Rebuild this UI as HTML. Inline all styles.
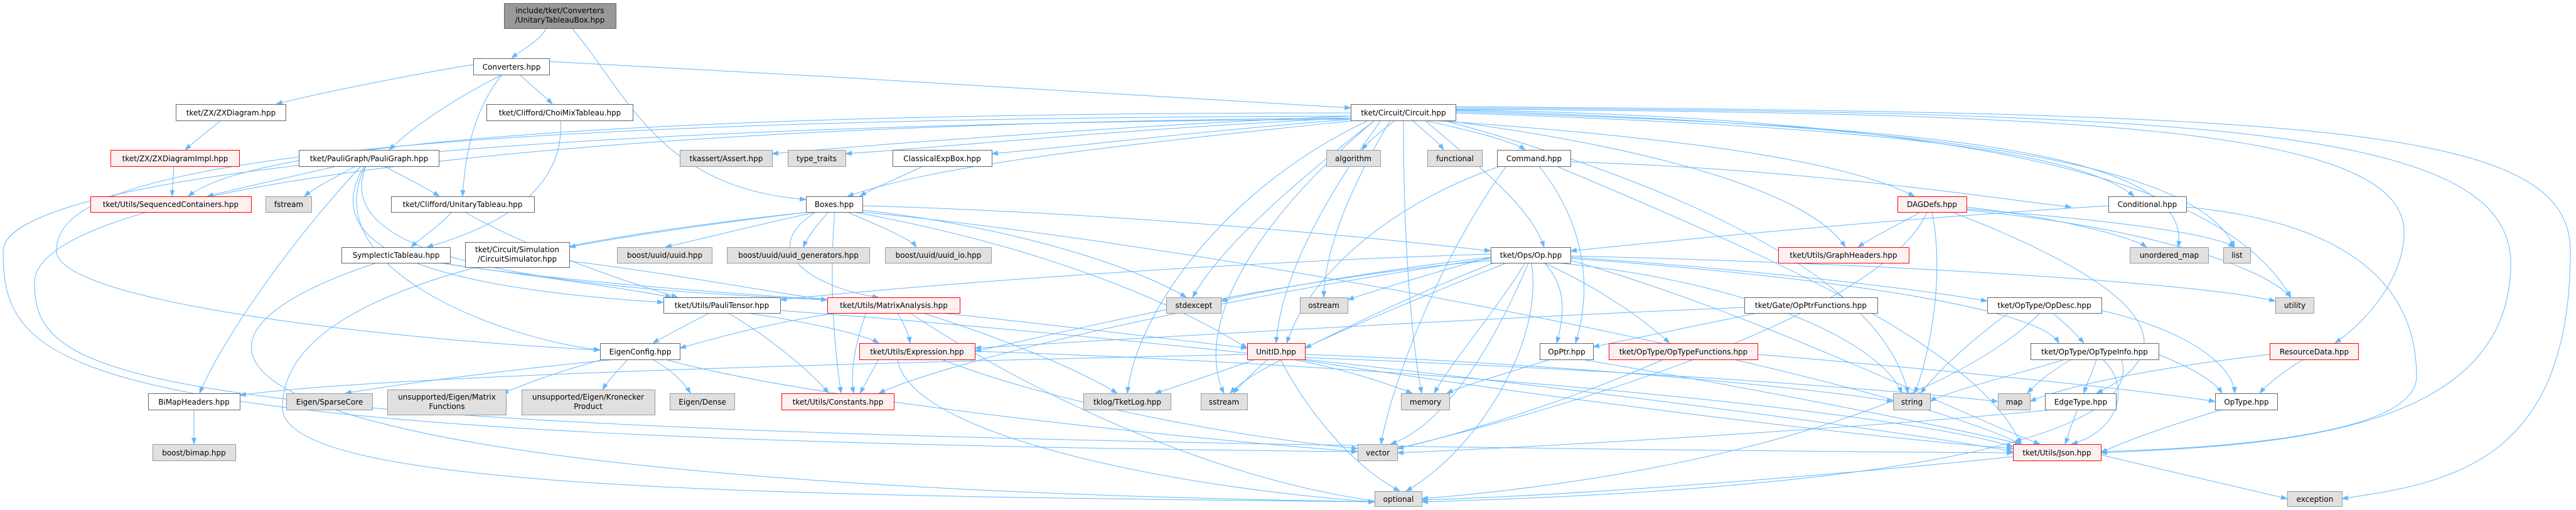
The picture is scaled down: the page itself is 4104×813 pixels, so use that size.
<!DOCTYPE html>
<html><head><meta charset="utf-8"><style>
html,body{margin:0;padding:0;background:#fff}
svg{display:block}
text{font-family:"DejaVu Sans","Liberation Sans",sans-serif;font-size:12px;fill:#000}
.w{fill:#fff;stroke:#666}
.g{fill:#e0e0e0;stroke:#999}
.r{fill:#fff0f0;stroke:#f00}
.h{fill:#999;stroke:#666}
path.e{fill:none;stroke:#63b8ff;stroke-width:1}
</style></head><body>
<svg width="4104" height="813" viewBox="0 0 4104 813" xmlns="http://www.w3.org/2000/svg">
<defs><marker id="a" markerUnits="userSpaceOnUse" markerWidth="11" markerHeight="8" refX="10" refY="4" orient="auto"><path d="M0,0 L11,4 L0,8 z" fill="#63b8ff"/></marker></defs>
<g marker-end="url(#a)">
<path class="e" d="M870,46 C860,65 830,80 815,93"/>
<path class="e" d="M912,46 C1000,150 1050,300 1284,318"/>
<path class="e" d="M875,98 C1300,120 1800,150 2152,172"/>
<path class="e" d="M754,103 C650,120 500,150 440,166"/>
<path class="e" d="M800,119 C720,160 660,200 620,239"/>
<path class="e" d="M800,119 C750,180 740,260 737,313"/>
<path class="e" d="M828,119 C850,140 870,155 880,166"/>
<path class="e" d="M352,192 C330,210 310,225 295,239"/>
<path class="e" d="M277,265 L274,313"/>
<path class="e" d="M536,265 C450,285 380,300 330,313"/>
<path class="e" d="M566,265 C530,285 500,300 485,313"/>
<path class="e" d="M612,265 C650,285 680,300 700,313"/>
<path class="e" d="M575,265 C450,400 350,550 318,627"/>
<path class="e" d="M580,265 C500,400 700,460 1057,482"/>
<path class="e" d="M583,265 C520,420 900,460 1318,478"/>
<path class="e" d="M582,265 C500,430 800,540 956,558"/>
<path class="e" d="M893,192 C900,300 800,360 680,394"/>
<path class="e" d="M720,338 C700,360 670,380 655,394"/>
<path class="e" d="M740,338 C850,400 1000,450 1080,474"/>
<path class="e" d="M700,419 C850,440 1000,460 1070,474"/>
<path class="e" d="M700,419 C900,450 1200,470 1318,478"/>
<path class="e" d="M600,419 C200,550 250,770 2190,800"/>
<path class="e" d="M2152,180 C1000,180 400,230 300,313"/>
<path class="e" d="M2270,192 C2350,210 2410,225 2430,239"/>
<path class="e" d="M2222,192 C2200,210 2180,225 2170,239"/>
<path class="e" d="M2250,192 C2270,210 2290,225 2300,239"/>
<path class="e" d="M2152,185 C1800,200 1400,230 1230,245"/>
<path class="e" d="M2152,188 C1800,205 1500,235 1347,245"/>
<path class="e" d="M2155,190 C1900,210 1700,235 1580,245"/>
<path class="e" d="M2160,192 C1800,230 1500,260 1350,313"/>
<path class="e" d="M2280,192 C2700,220 2950,260 3050,313"/>
<path class="e" d="M2319,180 C2900,200 3300,230 3400,313"/>
<path class="e" d="M2300,192 C2600,230 2880,300 2940,394"/>
<path class="e" d="M2319,178 C3000,200 3500,230 3470,394"/>
<path class="e" d="M2319,176 C3100,200 3500,260 3560,394"/>
<path class="e" d="M2319,175 C3200,190 3550,300 3650,474"/>
<path class="e" d="M2319,174 C3300,180 3830,200 3830,370 C3830,450 3760,520 3720,547"/>
<path class="e" d="M2319,172 C3500,180 4000,200 4000,420 C4000,700 3600,710 3347,722"/>
<path class="e" d="M2319,170 C3700,180 4095,200 4095,400 C4095,740 3900,770 3731,795"/>
<path class="e" d="M2270,192 C2350,260 2440,330 2460,394"/>
<path class="e" d="M2236,192 C2236,400 2250,550 2265,627"/>
<path class="e" d="M2152,190 C600,200 5,300 5,400 C5,600 100,700 2163,720"/>
<path class="e" d="M2152,188 C700,200 55,320 55,450 C55,620 200,700 3207,722"/>
<path class="e" d="M2180,192 C1950,300 1810,500 1796,627"/>
<path class="e" d="M2190,192 C2000,350 1900,520 1950,627"/>
<path class="e" d="M2200,192 C2100,330 2040,450 2033,547"/>
<path class="e" d="M2190,192 C2050,300 1940,400 1900,474"/>
<path class="e" d="M2215,192 C2150,300 2110,400 2109,474"/>
<path class="e" d="M2152,185 C300,190 90,300 90,400 C90,480 600,540 956,558"/>
<path class="e" d="M2300,192 C2700,300 3000,450 3040,627"/>
<path class="e" d="M2452,265 C2520,350 2540,450 2510,547"/>
<path class="e" d="M2390,265 C2200,330 2080,450 2050,547"/>
<path class="e" d="M2480,265 C2800,400 3150,550 3220,708"/>
<path class="e" d="M2400,265 C2300,400 2220,600 2200,708"/>
<path class="e" d="M2502,258 C2900,270 3200,320 3300,330"/>
<path class="e" d="M1290,338 C1100,360 950,385 907,394"/>
<path class="e" d="M1300,338 C1200,360 1100,385 1060,394"/>
<path class="e" d="M1320,338 C1300,360 1285,380 1280,394"/>
<path class="e" d="M1350,338 C1400,360 1450,380 1460,394"/>
<path class="e" d="M1374,328 C1800,340 2200,380 2375,400"/>
<path class="e" d="M1374,335 C1600,360 1800,420 1890,474"/>
<path class="e" d="M1360,338 C1700,400 1900,500 1987,555"/>
<path class="e" d="M1300,338 C1200,400 1300,460 1400,474"/>
<path class="e" d="M1374,338 C2000,400 3000,600 3220,708"/>
<path class="e" d="M1290,338 C700,400 450,500 450,650 C450,780 1200,790 2190,800"/>
<path class="e" d="M1330,338 C1320,450 1330,560 1340,627"/>
<path class="e" d="M907,416 C1100,440 1250,470 1318,478"/>
<path class="e" d="M1470,265 C1430,285 1390,300 1370,313"/>
<path class="e" d="M2375,410 C2300,430 2200,460 2147,478"/>
<path class="e" d="M2460,419 C2500,460 2490,510 2480,547"/>
<path class="e" d="M2460,419 C2550,460 2620,510 2660,547"/>
<path class="e" d="M2502,410 C2800,430 3050,460 3166,480"/>
<path class="e" d="M2502,412 C2900,440 3250,490 3280,547"/>
<path class="e" d="M2430,419 C2380,500 2310,580 2285,627"/>
<path class="e" d="M2435,419 C2380,550 2300,680 2215,708"/>
<path class="e" d="M2440,419 C2460,550 2350,720 2240,783"/>
<path class="e" d="M2502,415 C2800,500 3100,650 3250,708"/>
<path class="e" d="M2380,419 C2250,470 2150,520 2079,555"/>
<path class="e" d="M2375,415 C2000,450 1700,530 1553,560"/>
<path class="e" d="M2400,419 C2200,500 2000,580 1960,627"/>
<path class="e" d="M2480,419 C2800,450 3000,550 3030,627"/>
<path class="e" d="M2375,405 C1900,420 1400,460 1243,478"/>
<path class="e" d="M2375,412 C1900,480 1500,580 1400,627"/>
<path class="e" d="M2502,408 C3000,420 3500,450 3625,480"/>
<path class="e" d="M2375,410 C2200,430 2000,465 1945,480"/>
<path class="e" d="M1130,499 C1100,515 1060,535 1040,547"/>
<path class="e" d="M1160,499 C1230,540 1300,600 1320,627"/>
<path class="e" d="M1190,499 C1300,515 1380,535 1400,547"/>
<path class="e" d="M1243,495 C2000,550 3000,680 3207,720"/>
<path class="e" d="M1330,499 C1200,520 1120,545 1083,555"/>
<path class="e" d="M1430,499 C1440,515 1448,535 1450,547"/>
<path class="e" d="M1500,499 C1700,520 1900,545 1987,555"/>
<path class="e" d="M1470,499 C1600,540 1720,590 1780,627"/>
<path class="e" d="M1380,499 C1360,550 1355,600 1360,627"/>
<path class="e" d="M1450,499 C1600,600 1900,760 2200,800"/>
<path class="e" d="M980,573 C800,590 620,615 550,627"/>
<path class="e" d="M960,573 C880,595 830,615 800,627"/>
<path class="e" d="M1000,573 C985,590 970,605 960,621"/>
<path class="e" d="M1040,573 C1070,590 1090,610 1100,627"/>
<path class="e" d="M1060,573 C1300,640 1900,700 2163,720"/>
<path class="e" d="M1400,573 C1390,590 1380,610 1370,627"/>
<path class="e" d="M1553,560 C2200,580 3000,650 3207,712"/>
<path class="e" d="M1500,573 C1700,650 2000,700 2163,715"/>
<path class="e" d="M1430,573 C1450,700 1900,780 2190,800"/>
<path class="e" d="M2000,573 C1950,590 1880,615 1840,627"/>
<path class="e" d="M2020,573 C2000,590 1975,615 1965,627"/>
<path class="e" d="M2060,573 C2150,590 2220,615 2250,627"/>
<path class="e" d="M2079,565 C2500,580 2900,620 3016,640"/>
<path class="e" d="M1987,565 C1300,580 600,600 382,630"/>
<path class="e" d="M2070,573 C2500,640 3000,700 3207,715"/>
<path class="e" d="M2040,573 C2080,650 2150,740 2230,783"/>
<path class="e" d="M2079,570 C2600,590 3000,620 3183,640"/>
<path class="e" d="M2470,573 C2400,595 2330,615 2305,627"/>
<path class="e" d="M2520,573 C2800,620 3100,680 3220,708"/>
<path class="e" d="M2650,573 C2500,640 2300,700 2226,715"/>
<path class="e" d="M2800,565 C3100,590 3400,620 3529,640"/>
<path class="e" d="M2800,499 C2700,520 2600,540 2538,553"/>
<path class="e" d="M2779,490 C2300,510 1800,540 1553,555"/>
<path class="e" d="M3060,338 C3020,360 2980,380 2960,394"/>
<path class="e" d="M3133,330 C3300,350 3400,380 3420,394"/>
<path class="e" d="M3133,333 C3350,350 3520,370 3560,394"/>
<path class="e" d="M3078,338 C3100,450 3070,580 3050,627"/>
<path class="e" d="M3070,338 C3000,500 2500,650 2226,715"/>
<path class="e" d="M3110,338 C3400,450 3500,550 3340,627"/>
<path class="e" d="M3133,335 C3400,360 3600,420 3650,474"/>
<path class="e" d="M3359,328 C3000,350 2700,380 2502,400"/>
<path class="e" d="M3483,330 C3800,360 3850,500 3850,600 C3850,700 3500,715 3347,720"/>
<path class="e" d="M3270,499 C3290,515 3310,535 3320,547"/>
<path class="e" d="M3200,499 C3130,550 3080,600 3060,627"/>
<path class="e" d="M3250,499 C3100,650 2700,760 2265,795"/>
<path class="e" d="M3348,495 C3500,530 3560,590 3560,627"/>
<path class="e" d="M3290,573 C3200,600 3100,625 3075,640"/>
<path class="e" d="M3300,573 C3270,590 3245,610 3230,627"/>
<path class="e" d="M3340,573 C3335,590 3325,610 3320,627"/>
<path class="e" d="M3350,573 C3400,620 3370,690 3300,708"/>
<path class="e" d="M3439,565 C3500,590 3530,610 3540,627"/>
<path class="e" d="M3380,573 C3420,700 3000,780 2265,800"/>
<path class="e" d="M3310,653 C3300,675 3295,695 3290,708"/>
<path class="e" d="M3270,653 C3000,680 2500,710 2226,722"/>
<path class="e" d="M3540,653 C3450,680 3380,705 3347,722"/>
<path class="e" d="M3670,573 C3640,590 3610,615 3600,627"/>
<path class="e" d="M3616,565 C3400,590 3280,620 3234,640"/>
<path class="e" d="M3347,725 C3450,750 3580,780 3644,795"/>
<path class="e" d="M3207,728 C2900,760 2500,790 2265,797"/>
<path class="e" d="M309,653 L309,708"/>
</g>
<rect class="h" x="803.5" y="5.5" width="178" height="40"/>
<text x="892" y="21" text-anchor="middle">include/tket/Converters</text>
<text x="892" y="36" text-anchor="middle">/UnitaryTableauBox.hpp</text>
<rect class="w" x="754.5" y="93.5" width="121" height="26"/><text x="815" y="111" text-anchor="middle">Converters.hpp</text>
<rect class="w" x="280.5" y="166.5" width="175" height="26"/><text x="368" y="184" text-anchor="middle">tket/ZX/ZXDiagram.hpp</text>
<rect class="w" x="775.5" y="166.5" width="233" height="26"/><text x="892" y="184" text-anchor="middle">tket/Clifford/ChoiMixTableau.hpp</text>
<rect class="w" x="2152.5" y="166.5" width="167" height="26"/><text x="2236" y="184" text-anchor="middle">tket/Circuit/Circuit.hpp</text>
<rect class="r" x="176.5" y="239.5" width="205" height="26"/><text x="279" y="257" text-anchor="middle">tket/ZX/ZXDiagramImpl.hpp</text>
<rect class="w" x="476.5" y="239.5" width="223" height="26"/><text x="588" y="257" text-anchor="middle">tket/PauliGraph/PauliGraph.hpp</text>
<rect class="g" x="1083.5" y="239.5" width="147" height="26"/><text x="1157" y="257" text-anchor="middle">tkassert/Assert.hpp</text>
<rect class="g" x="1255.5" y="239.5" width="92" height="26"/><text x="1301" y="257" text-anchor="middle">type_traits</text>
<rect class="w" x="1422.5" y="239.5" width="158" height="26"/><text x="1501" y="257" text-anchor="middle">ClassicalExpBox.hpp</text>
<rect class="g" x="2113.5" y="239.5" width="86" height="26"/><text x="2156" y="257" text-anchor="middle">algorithm</text>
<rect class="g" x="2274.5" y="239.5" width="87" height="26"/><text x="2318" y="257" text-anchor="middle">functional</text>
<rect class="w" x="2385.5" y="239.5" width="117" height="26"/><text x="2444" y="257" text-anchor="middle">Command.hpp</text>
<rect class="r" x="144.5" y="313.5" width="256" height="25"/><text x="272" y="330" text-anchor="middle">tket/Utils/SequencedContainers.hpp</text>
<rect class="g" x="423.5" y="313.5" width="73" height="25"/><text x="460" y="330" text-anchor="middle">fstream</text>
<rect class="w" x="623.5" y="313.5" width="228" height="25"/><text x="737" y="330" text-anchor="middle">tket/Clifford/UnitaryTableau.hpp</text>
<rect class="w" x="1284.5" y="313.5" width="90" height="25"/><text x="1329" y="330" text-anchor="middle">Boxes.hpp</text>
<rect class="r" x="3023.5" y="313.5" width="110" height="25"/><text x="3078" y="330" text-anchor="middle">DAGDefs.hpp</text>
<rect class="w" x="3359.5" y="313.5" width="124" height="25"/><text x="3421" y="330" text-anchor="middle">Conditional.hpp</text>
<rect class="w" x="544.5" y="394.5" width="173" height="25"/><text x="631" y="411" text-anchor="middle">SymplecticTableau.hpp</text>
<rect class="w" x="741.5" y="386.5" width="166" height="40"/>
<text x="824" y="402" text-anchor="middle">tket/Circuit/Simulation</text>
<text x="824" y="417" text-anchor="middle">/CircuitSimulator.hpp</text>
<rect class="g" x="983.5" y="394.5" width="151" height="25"/><text x="1059" y="411" text-anchor="middle">boost/uuid/uuid.hpp</text>
<rect class="g" x="1158.5" y="394.5" width="227" height="25"/><text x="1272" y="411" text-anchor="middle">boost/uuid/uuid_generators.hpp</text>
<rect class="g" x="1410.5" y="394.5" width="169" height="25"/><text x="1495" y="411" text-anchor="middle">boost/uuid/uuid_io.hpp</text>
<rect class="w" x="2375.5" y="394.5" width="127" height="25"/><text x="2439" y="411" text-anchor="middle">tket/Ops/Op.hpp</text>
<rect class="r" x="2833.5" y="394.5" width="208" height="25"/><text x="2937" y="411" text-anchor="middle">tket/Utils/GraphHeaders.hpp</text>
<rect class="g" x="3393.5" y="394.5" width="125" height="25"/><text x="3456" y="411" text-anchor="middle">unordered_map</text>
<rect class="g" x="3542.5" y="394.5" width="43" height="25"/><text x="3564" y="411" text-anchor="middle">list</text>
<rect class="w" x="1057.5" y="474.5" width="186" height="25"/><text x="1150" y="491" text-anchor="middle">tket/Utils/PauliTensor.hpp</text>
<rect class="r" x="1318.5" y="474.5" width="211" height="25"/><text x="1424" y="491" text-anchor="middle">tket/Utils/MatrixAnalysis.hpp</text>
<rect class="g" x="1858.5" y="474.5" width="87" height="25"/><text x="1902" y="491" text-anchor="middle">stdexcept</text>
<rect class="g" x="2071.5" y="474.5" width="76" height="25"/><text x="2109" y="491" text-anchor="middle">ostream</text>
<rect class="w" x="2779.5" y="474.5" width="212" height="25"/><text x="2885" y="491" text-anchor="middle">tket/Gate/OpPtrFunctions.hpp</text>
<rect class="w" x="3166.5" y="474.5" width="182" height="25"/><text x="3257" y="491" text-anchor="middle">tket/OpType/OpDesc.hpp</text>
<rect class="g" x="3625.5" y="474.5" width="61" height="25"/><text x="3656" y="491" text-anchor="middle">utility</text>
<rect class="w" x="956.5" y="547.5" width="127" height="26"/><text x="1020" y="565" text-anchor="middle">EigenConfig.hpp</text>
<rect class="r" x="1369.5" y="547.5" width="184" height="26"/><text x="1461" y="565" text-anchor="middle">tket/Utils/Expression.hpp</text>
<rect class="r" x="1987.5" y="547.5" width="92" height="26"/><text x="2033" y="565" text-anchor="middle">UnitID.hpp</text>
<rect class="w" x="2453.5" y="547.5" width="85" height="26"/><text x="2496" y="565" text-anchor="middle">OpPtr.hpp</text>
<rect class="r" x="2563.5" y="547.5" width="237" height="26"/><text x="2682" y="565" text-anchor="middle">tket/OpType/OpTypeFunctions.hpp</text>
<rect class="w" x="3235.5" y="547.5" width="204" height="26"/><text x="3337" y="565" text-anchor="middle">tket/OpType/OpTypeInfo.hpp</text>
<rect class="r" x="3616.5" y="547.5" width="141" height="26"/><text x="3687" y="565" text-anchor="middle">ResourceData.hpp</text>
<rect class="w" x="236.5" y="627.5" width="146" height="26"/><text x="309" y="645" text-anchor="middle">BiMapHeaders.hpp</text>
<rect class="g" x="456.5" y="627.5" width="137" height="26"/><text x="525" y="645" text-anchor="middle">Eigen/SparseCore</text>
<rect class="g" x="617.5" y="621.5" width="189" height="40"/>
<text x="712" y="637" text-anchor="middle">unsupported/Eigen/Matrix</text>
<text x="712" y="652" text-anchor="middle">Functions</text>
<rect class="g" x="831.5" y="621.5" width="212" height="40"/>
<text x="937" y="637" text-anchor="middle">unsupported/Eigen/Kronecker</text>
<text x="937" y="652" text-anchor="middle">Product</text>
<rect class="g" x="1067.5" y="627.5" width="103" height="26"/><text x="1119" y="645" text-anchor="middle">Eigen/Dense</text>
<rect class="r" x="1245.5" y="627.5" width="179" height="26"/><text x="1335" y="645" text-anchor="middle">tket/Utils/Constants.hpp</text>
<rect class="g" x="1726.5" y="627.5" width="139" height="26"/><text x="1796" y="645" text-anchor="middle">tklog/TketLog.hpp</text>
<rect class="g" x="1913.5" y="627.5" width="74" height="26"/><text x="1950" y="645" text-anchor="middle">sstream</text>
<rect class="g" x="2232.5" y="627.5" width="77" height="26"/><text x="2271" y="645" text-anchor="middle">memory</text>
<rect class="g" x="3016.5" y="627.5" width="59" height="26"/><text x="3046" y="645" text-anchor="middle">string</text>
<rect class="g" x="3183.5" y="627.5" width="51" height="26"/><text x="3209" y="645" text-anchor="middle">map</text>
<rect class="w" x="3258.5" y="627.5" width="113" height="26"/><text x="3315" y="645" text-anchor="middle">EdgeType.hpp</text>
<rect class="w" x="3529.5" y="627.5" width="99" height="26"/><text x="3579" y="645" text-anchor="middle">OpType.hpp</text>
<rect class="g" x="243.5" y="708.5" width="132" height="26"/><text x="309" y="726" text-anchor="middle">boost/bimap.hpp</text>
<rect class="g" x="2163.5" y="708.5" width="63" height="26"/><text x="2195" y="726" text-anchor="middle">vector</text>
<rect class="r" x="3207.5" y="708.5" width="140" height="26"/><text x="3277" y="726" text-anchor="middle">tket/Utils/Json.hpp</text>
<rect class="g" x="2190.5" y="783.5" width="75" height="24"/><text x="2228" y="800" text-anchor="middle">optional</text>
<rect class="g" x="3644.5" y="783.5" width="87" height="24"/><text x="3688" y="800" text-anchor="middle">exception</text>
</svg>
</body></html>
